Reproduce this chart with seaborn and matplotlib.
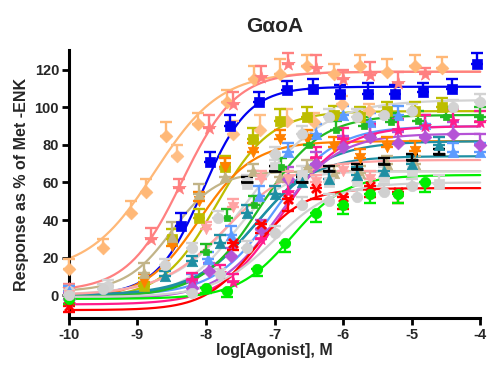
import numpy as np
import pandas as pd
import matplotlib
matplotlib.use("Agg")
import matplotlib.pyplot as plt
import seaborn as sns

sns.set_theme(style="ticks")
plt.rcParams['font.family'] = ['Liberation Sans', 'DejaVu Sans']

# ---------------- data ----------------
peach_x = [-10, -9.5, -9.1, -8.88, -8.58, -8.11, -7.7, -7.3, -6.92, -6.52, -6.13, -5.75, -5.36, -4.95, -4.55]
peach_y = [14, 25, 44, 55, 85, 91, 103, 115, 118, 122, 118, 122, 119, 122, 121]
peach_e = [5, 5, 6, 7, 7, 6, 6, 7, 8, 6, 5, 6, 7, 6, 6]

peach2_x = [-8.42, -7.61, -7.21, -6.82, -6.42, -6.02, -5.62]
peach2_y = [74, 86, 88, 93, 92, 102, 98]
peach2_e = [6, 7, 8, 6, 5, 4, 4]

salmon_x = [-10, -8.8, -8.4, -7.95, -7.6, -7.2, -6.8, -6.4, -6.0, -5.6, -5.2, -4.8]
salmon_y = [3, 30, 57, 89, 102, 116, 123, 121, 115, 117, 113, 118]
salmon_e = [3, 6, 5, 7, 6, 6, 6, 7, 5, 7, 6, 3]

blue_x = [-10, -8.36, -7.94, -7.65, -7.23, -6.82, -6.44, -6.04, -5.63, -5.24, -4.83, -4.41, -4.04]
blue_y = [0, 37, 71, 90, 103, 109, 110, 107, 107, 107, 108, 110, 123]
blue_e = [3, 7, 5, 6, 5, 5, 5, 5, 6, 5, 5, 5, 6]

olive_x = [-10, -8.9, -8.5, -8.1, -7.72, -7.31, -6.92, -6.52, -6.13, -5.75, -5.36, -4.95, -4.55]
olive_y = [0, 5, 30, 41, 68, 83, 93, 95, 96, 95, 98, 98, 100]
olive_e = [3, 4, 5, 5, 6, 6, 6, 5, 5, 5, 5, 5, 5]

orange_x = [-10, -8.9, -8.5, -8.1, -7.72, -7.31, -6.92, -6.52, -6.13, -5.75, -5.36, -4.95]
orange_y = [0, 7, 26, 50, 68, 76, 83, 83, 79, 73, 79, 77]
orange_e = [3, 4, 5, 5, 5, 5, 5, 5, 5, 5, 5, 5]

tan_x = [-10, -8.9, -8.5, -8.1, -7.72, -7.31, -6.92, -6.52, -6.13, -5.75, -5.36, -4.95]
tan_y = [2, 12, 31, 54, 63, 66, 63, 68, 65, 65, 70, 70]
tan_e = [3, 5, 8, 5, 4, 4, 4, 4, 4, 4, 4, 4]

gray_x = [-10, -9.43, -8.6, -8.2, -7.82, -7.4, -7.0, -6.6, -6.2, -5.8, -5.4, -5.0, -4.4, -4.0]
gray_y = [2, 5, 16, 25, 41, 60, 75, 86, 95, 95, 96, 98, 100, 103]
gray_e = [3, 3, 3, 3, 4, 4, 4, 4, 4, 4, 4, 4, 4, 4]

graysq_x = [-10, -7.4, -7.0, -6.6, -6.2, -5.8, -5.4, -5.0, -4.6]
graysq_y = [0, 59, 68, 64, 60, 61, 63, 66, 59]
graysq_e = [3, 4, 4, 5, 5, 5, 5, 5, 5]

lblue_x = [-10, -8.2, -7.97, -7.64, -7.23, -6.8, -6.4, -6.0, -5.6, -5.2, -4.8, -4.4, -4.0]
lblue_y = [2, 7, 19, 32, 53, 76, 86, 96, 92, 96, 91, 76, 76]
lblue_e = [3, 4, 4, 5, 5, 5, 5, 5, 5, 5, 5, 5, 5]

teal_x = [-10, -8.6, -8.2, -7.8, -7.4, -7.0, -6.6, -6.2, -5.8, -5.4, -5.0, -4.6]
teal_y = [0, 10, 18, 28, 44, 54, 60, 62, 64, 66, 70, 80]
teal_e = [3, 3, 3, 4, 4, 4, 4, 4, 4, 4, 4, 4]

black_x = [-7.4, -7.0, -6.6, -6.2, -5.8, -5.4, -5.0, -4.6]
black_y = [60, 66, 60, 66, 67, 70, 72, 75]
black_e = [3, 3, 3, 3, 3, 3, 3, 3]

magenta_x = [-10, -8.2, -7.8, -7.6, -7.2, -6.8, -6.4, -6.0, -5.6, -5.2, -4.8, -4.4, -4.0]
magenta_y = [-5, 8, 12, 7, 30, 55, 73, 83, 85, 88, 90, 93, 92]
magenta_e = [3, 4, 4, 4, 5, 5, 6, 6, 6, 6, 6, 6, 6]

purple_x = [-10, -8.2, -7.95, -7.64, -7.2, -6.8, -6.4, -6.0, -5.6, -5.2, -4.8, -4.4, -4.0]
purple_y = [-2, 4, 13, 21, 35, 62, 70, 79, 84, 81, 84, 86, 80]
purple_e = [3, 3, 4, 4, 5, 6, 6, 6, 6, 6, 6, 6, 6]

red_x = [-10, -7.6, -7.2, -6.8, -6.4, -6.0, -5.6, -5.2]
red_y = [-6, 28, 38, 51, 57, 52, 58, 55]
red_e = [3, 4, 5, 6, 6, 6, 6, 6]

lime_x = [-10, -8.0, -7.7, -7.25, -6.85, -6.4, -6.0, -5.6, -5.2, -4.8]
lime_y = [-2, 4, 2, 14, 28, 44, 48, 54, 54, 60]
lime_e = [3, 3, 3, 4, 5, 5, 5, 5, 5, 5]

green_x = [-10, -8.0, -7.7, -7.3, -6.9, -6.5, -6.1, -5.7, -5.3, -4.9, -4.5, -4.0]
green_y = [0, 23, 41, 48, 68, 80, 88, 90, 92, 93, 95, 95]
green_e = [3, 4, 5, 5, 5, 5, 5, 5, 5, 5, 5, 5]

pink_x = [-10, -8.0, -7.6, -7.2, -6.8, -6.4, -6.0, -5.6]
pink_y = [0, 35, 47, 62, 62, 60, 66, 62]
pink_e = [3, 4, 4, 4, 4, 4, 4, 4]

ltgray_x = [-10, -9.5, -8.2, -7.8, -7.4, -7.0, -6.6, -6.2, -5.8, -5.4, -5.0]
ltgray_y = [0, 3, 1, 11, 25, 33, 48, 50, 52, 55, 58]
ltgray_e = [3, 3, 3, 3, 4, 4, 4, 4, 4, 4, 4]

# fitted curve parameters: bottom, top, logEC50, Hill slope
series_names = ["peach", "salmon", "blue", "olive", "orange", "tan", "gray", "graysq",
                "lblue", "teal", "black", "magenta", "purple", "red", "lime", "green",
                "pink", "ltgray"]
fit_bottom = [12, 2, 0, -2, -2, 2, 0, 0, 0, 0, 0, -5, -2, -8, -2, -1, 0, -1]
fit_top = [119, 119, 111, 98, 82, 66, 104, 66, 90, 82, 74, 90, 86, 57, 64, 96, 72, 60]
fit_logec50 = [-8.75, -8.35, -8.05, -7.85, -8.1, -8.5, -7.35, -7.6, -7.0, -7.2, -7.3, -6.9, -6.95, -7.3, -6.75, -7.2, -7.7, -7.0]
fit_hill = [0.9, 1.1, 1.3, 1.1, 1.1, 1.3, 0.8, 1.2, 1.0, 0.9, 1.0, 1.0, 1.0, 1.2, 1.1, 1.0, 0.9, 1.0]

# ---------------- styles ----------------
styles = {
    "peach":   dict(color="#FFB877", marker="D", ms=6.5),
    "peach2":  dict(color="#FFBE85", marker="D", ms=6.5),
    "salmon":  dict(color="#FF8080", marker="*", ms=10),
    "blue":    dict(color="#0000F0", marker="s", ms=7.5),
    "olive":   dict(color="#BDBD00", marker="s", ms=7.5),
    "orange":  dict(color="#FF8000", marker="v", ms=7.5),
    "tan":     dict(color="#C2B488", marker="^", ms=7.5),
    "gray":    dict(color="#D3D3D3", marker="o", ms=7.5),
    "graysq":  dict(color="#D6D6D6", marker="s", ms=7.5),
    "lblue":   dict(color="#5C9BFF", marker="^", ms=7.5),
    "teal":    dict(color="#1E8FA3", marker="^", ms=7.5),
    "black":   dict(color="#000000", marker="_", ms=8),
    "magenta": dict(color="#FF1C8D", marker="*", ms=9),
    "purple":  dict(color="#B553D6", marker="D", ms=6.5),
    "red":     dict(color="#FF0000", marker="x", ms=6.5),
    "lime":    dict(color="#00EE00", marker="o", ms=7.5),
    "green":   dict(color="#22BB22", marker="s", ms=5),
    "pink":    dict(color="#FFA3A3", marker="v", ms=7.5),
    "ltgray":  dict(color="#D0D0D0", marker="o", ms=7.5),
}
line_colors = {"black": "#1E8FA3"}

points = {
    "peach": (peach_x, peach_y, peach_e), "peach2": (peach2_x, peach2_y, peach2_e),
    "salmon": (salmon_x, salmon_y, salmon_e), "blue": (blue_x, blue_y, blue_e),
    "olive": (olive_x, olive_y, olive_e), "orange": (orange_x, orange_y, orange_e),
    "tan": (tan_x, tan_y, tan_e), "gray": (gray_x, gray_y, gray_e),
    "graysq": (graysq_x, graysq_y, graysq_e), "lblue": (lblue_x, lblue_y, lblue_e),
    "teal": (teal_x, teal_y, teal_e), "black": (black_x, black_y, black_e),
    "magenta": (magenta_x, magenta_y, magenta_e), "purple": (purple_x, purple_y, purple_e),
    "red": (red_x, red_y, red_e), "lime": (lime_x, lime_y, lime_e),
    "green": (green_x, green_y, green_e), "pink": (pink_x, pink_y, pink_e),
    "ltgray": (ltgray_x, ltgray_y, ltgray_e),
}
down_err = {"lime", "red"}

# ---------------- figure ----------------
fig = plt.figure(figsize=(4.88, 3.77), dpi=100)
ax = fig.add_axes([0.141, 0.156, 0.843, 0.711])

# fitted curves
grid = np.linspace(-10, -4, 300)
rows = []
for i, name in enumerate(series_names):
    curve = fit_bottom[i] + (fit_top[i] - fit_bottom[i]) / (1 + 10 ** ((fit_logec50[i] - grid) * fit_hill[i]))
    rows.append(pd.DataFrame({"x": grid, "y": curve, "series": name}))
curves = pd.concat(rows, ignore_index=True)
palette = {n: line_colors.get(n, styles[n]["color"]) for n in series_names}
sns.lineplot(data=curves, x="x", y="y", hue="series", palette=palette, linewidth=1.6,
             legend=False, ax=ax, estimator=None, sort=True, clip_on=False)

# points with one-sided error bars
for name, (xs, ys, es) in points.items():
    st = styles[name]
    ys = np.asarray(ys, float)
    es = np.asarray(es, float)
    if name in down_err:
        yerr = [es, np.zeros_like(es)]
    else:
        yerr = [np.zeros_like(es), es]
    ax.errorbar(xs, ys, yerr=yerr, fmt="none", ecolor=st["color"], elinewidth=1.7,
                capsize=4, capthick=1.7, clip_on=False, zorder=3)
    df = pd.DataFrame({"x": xs, "y": ys})
    mk = st["marker"]
    if mk in ("x", "_"):
        sns.scatterplot(data=df, x="x", y="y", marker=mk, color=st["color"],
                        s=st["ms"] ** 2, linewidth=2.0, ax=ax, clip_on=False, zorder=4)
    else:
        sns.scatterplot(data=df, x="x", y="y", marker=mk, color=st["color"],
                        s=st["ms"] ** 2, edgecolor=st["color"], linewidth=0.5,
                        ax=ax, clip_on=False, zorder=4)

ax.set_xlim(-10, -4)
ax.set_ylim(-12.3, 130.5)
ax.set_xticks([-10, -9, -8, -7, -6, -5, -4])
ax.set_xticklabels(["-10", "-9", "-8", "-7", "-6", "-5", "-4"])
ax.set_yticks([0, 20, 40, 60, 80, 100, 120])
for lbl in ax.get_xticklabels() + ax.get_yticklabels():
    lbl.set_fontweight("bold")
    lbl.set_fontsize(10.5)
ax.tick_params(axis="both", width=2, length=5, color="black", pad=2)
for side in ("left", "bottom"):
    ax.spines[side].set_linewidth(2.2)
    ax.spines[side].set_color("black")
for side in ("top", "right"):
    ax.spines[side].set_visible(False)
ax.set_xlabel("log[Agonist], M", fontsize=11.5, fontweight="bold", labelpad=1)
ax.set_ylabel("Response as % of Met -ENK", fontsize=11.5, fontweight="bold", labelpad=4)
ax.set_title("G\u03b1oA", fontsize=15, fontweight="bold", pad=13)

fig.savefig("out.png", dpi=100)
